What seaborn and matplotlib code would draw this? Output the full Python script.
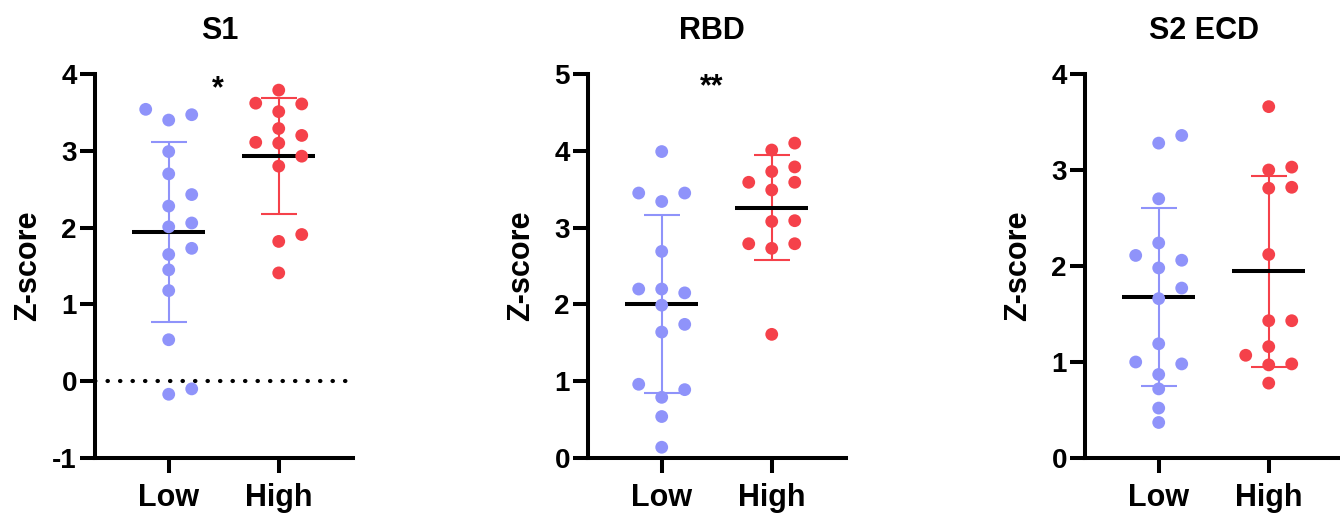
import numpy as np
import pandas as pd
import matplotlib
matplotlib.use("Agg")
import matplotlib.pyplot as plt
import seaborn as sns

# ---------------- data ----------------
groups = ["Low", "High"]
titles = ["S1", "RBD", "S2 ECD"]

s1_low = [3.54, 3.47, 3.40, 2.99, 2.70, 2.43, 2.28, 2.06, 2.01, 1.73, 1.65, 1.45, 1.18, 0.54, -0.10, -0.17]
s1_high = [3.79, 3.61, 3.62, 3.51, 3.29, 3.20, 3.10, 3.11, 2.93, 2.80, 1.91, 1.82, 1.41]

rbd_low = [3.99, 3.45, 3.45, 3.34, 2.69, 2.20, 2.20, 2.15, 1.99, 1.74, 1.64, 0.96, 0.89, 0.79, 0.54, 0.14]
rbd_high = [4.10, 4.01, 3.79, 3.73, 3.59, 3.59, 3.49, 3.08, 3.09, 2.79, 2.73, 2.79, 1.61]

s2_low = [3.28, 3.36, 2.70, 2.24, 2.11, 2.06, 1.98, 1.77, 1.66, 1.19, 1.00, 0.98, 0.87, 0.72, 0.52, 0.37]
s2_high = [3.66, 3.03, 3.00, 2.82, 2.81, 2.12, 1.43, 1.43, 1.16, 1.07, 0.97, 0.98, 0.78]

significance = ["*", "**", ""]
y_limits = [(-1, 4), (0, 5), (0, 4)]
y_ticks = [[-1, 0, 1, 2, 3, 4], [0, 1, 2, 3, 4, 5], [0, 1, 2, 3, 4]]

panels = [(s1_low, s1_high), (rbd_low, rbd_high), (s2_low, s2_high)]

# ---------------- style ----------------
sns.set_theme(style="ticks")
plt.rcParams["font.family"] = ["Liberation Sans", "DejaVu Sans"]
plt.rcParams["font.weight"] = "bold"
plt.rcParams["axes.labelweight"] = "bold"
plt.rcParams["axes.titleweight"] = "bold"
plt.rcParams["text.color"] = "black"
plt.rcParams["axes.labelcolor"] = "black"
plt.rcParams["axes.titlecolor"] = "black"
plt.rcParams["xtick.color"] = "black"
plt.rcParams["ytick.color"] = "black"
plt.rcParams["xtick.labelcolor"] = "black"
plt.rcParams["ytick.labelcolor"] = "black"

colors = {"Low": "#8F93FA", "High": "#F5414A"}

W, H = 1340, 513
fig = plt.figure(figsize=(W / 100, H / 100), dpi=100)

lefts_px = [95, 588, 1085]
ax_w_px, ax_h_px = 258, 384
bottom_px = 55
title_x = [0.483, 0.48, 0.46]
lw_axis = 2.9

for i, (low, high) in enumerate(panels):
    ax = fig.add_axes([lefts_px[i] / W, bottom_px / H, ax_w_px / W, ax_h_px / H])
    xlim = (-0.67, 1.675)
    ax.set_xlim(*xlim)
    ax.set_ylim(*y_limits[i])

    # column-style dot layout (Prism-like)
    ppu = ax_h_px / (y_limits[i][1] - y_limits[i][0])
    thr = 14.0 / ppu
    step = 23.0 / 110.0
    rows = []
    for gi, (g, vals) in enumerate(zip(groups, [low, high])):
        placed = {}
        for v in sorted(vals):
            for c in [0, 1, -1, 2, -2, 3, -3]:
                col = placed.setdefault(c, [])
                if all(abs(v - p) >= thr for p in col):
                    col.append(v)
                    rows.append({"group": g, "pos": gi + c * step, "value": v})
                    break
    df = pd.DataFrame(rows)

    # mean and SD
    for gi, (g, vals) in enumerate(zip(groups, [low, high])):
        arr = np.asarray(vals)
        m, sd = arr.mean(), arr.std(ddof=1)
        ax.errorbar([gi], [m], yerr=[sd], fmt="none", ecolor=colors[g],
                    elinewidth=1.5, capsize=13, capthick=1.5, zorder=2)
        ax.hlines(m, gi - 0.33, gi + 0.33, color="black", lw=2.9, zorder=2.5)

    sns.scatterplot(data=df, x="pos", y="value", hue="group", palette=colors,
                    s=85, linewidth=0, legend=False, ax=ax, zorder=3)

    if y_limits[i][0] < 0:
        ax.axhline(0, color="black", lw=3.0, linestyle=(0, (0.1, 2.9)),
                   dash_capstyle="round", zorder=1)

    if significance[i]:
        ax.text(0.45, [3.70, 4.72, 0][i], significance[i], ha="center",
                va="baseline", fontsize=22, fontweight="bold", color="black")

    ax.set_xticks([0, 1])
    ax.set_xticklabels(groups, fontsize=22, fontweight="bold", color="black")
    ax.set_yticks(y_ticks[i])
    ax.set_yticklabels([str(t) for t in y_ticks[i]], fontsize=20,
                       fontweight="bold", color="black")
    ax.set_xlabel("")
    ax.set_ylabel("Z-score", fontsize=22, fontweight="bold", color="black")
    ax.yaxis.set_label_coords(-0.2, 0.5)

    ax.set_title(titles[i], fontsize=22, fontweight="bold", pad=25, color="black")
    ax.title.set_x(title_x[i])

    for side in ["top", "right"]:
        ax.spines[side].set_visible(False)
    for side in ["left", "bottom"]:
        ax.spines[side].set_linewidth(lw_axis)
        ax.spines[side].set_color("black")
    ax.tick_params(axis="both", width=lw_axis, length=11, color="black", colors="black")
    ax.tick_params(axis="y", pad=2)
    ax.tick_params(axis="x", pad=7)
    ax.grid(False)
    ax.set_facecolor("white")

fig.savefig("out.png", dpi=100, facecolor="white")
